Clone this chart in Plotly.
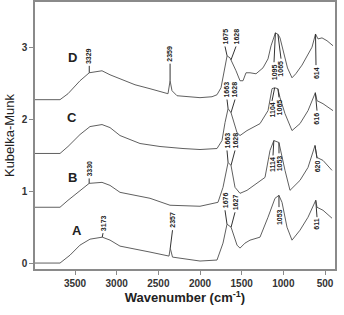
import plotly.graph_objects as go

# ---- data (wavenumber cm-1, Kubelka-Munk) ----
wn_A = [3980, 3680, 3560, 3440, 3320, 3173, 3080, 2960, 2600, 2372, 2357, 2330, 2000, 1796, 1724, 1676, 1627, 1556, 1520, 1460, 1400, 1280, 1184, 1100, 1053, 1016, 956, 896, 800, 704, 611, 596, 524, 416]
km_A = [0.0, 0.0, 0.11, 0.25, 0.333, 0.361, 0.32, 0.236, 0.153, 0.097, 0.208, 0.083, 0.028, 0.042, 0.278, 0.542, 0.50, 0.25, 0.208, 0.278, 0.319, 0.361, 0.639, 0.903, 0.944, 0.847, 0.50, 0.319, 0.458, 0.639, 0.875, 0.778, 0.736, 0.625]

wn_B = [3980, 3680, 3584, 3440, 3330, 3176, 3080, 2960, 2600, 2360, 2000, 1784, 1724, 1663, 1628, 1580, 1520, 1436, 1316, 1220, 1160, 1114, 1053, 1040, 980, 920, 800, 704, 620, 596, 524, 416]
km_B = [0.778, 0.778, 0.875, 1.014, 1.111, 1.125, 1.083, 0.986, 0.903, 0.806, 0.792, 0.847, 1.056, 1.403, 1.361, 1.056, 0.972, 1.014, 1.111, 1.194, 1.569, 1.708, 1.681, 1.611, 1.292, 1.014, 1.153, 1.333, 1.639, 1.472, 1.431, 1.292]

wn_C = [3980, 3680, 3584, 3440, 3320, 3176, 3080, 2960, 2720, 2480, 2204, 2000, 1796, 1736, 1700, 1663, 1628, 1556, 1520, 1436, 1280, 1184, 1136, 1104, 1065, 1040, 980, 896, 800, 704, 616, 596, 524, 404]
km_C = [1.528, 1.528, 1.625, 1.792, 1.903, 1.931, 1.889, 1.778, 1.667, 1.625, 1.597, 1.583, 1.597, 1.708, 1.958, 2.153, 2.097, 1.819, 1.778, 1.847, 1.944, 2.125, 2.431, 2.444, 2.43, 2.306, 2.083, 1.847, 1.944, 2.125, 2.375, 2.264, 2.222, 2.125]

wn_D = [3980, 3680, 3584, 3440, 3329, 3260, 3176, 3080, 2960, 2780, 2600, 2480, 2384, 2359, 2336, 2276, 2120, 2000, 1856, 1796, 1748, 1712, 1675, 1640, 1628, 1568, 1520, 1484, 1448, 1400, 1328, 1244, 1184, 1148, 1095, 1065, 1040, 1000, 950, 896, 850, 776, 704, 656, 614, 584, 536, 476, 404]
km_D = [2.278, 2.278, 2.361, 2.542, 2.653, 2.667, 2.681, 2.625, 2.569, 2.486, 2.431, 2.389, 2.361, 2.542, 2.403, 2.333, 2.319, 2.306, 2.319, 2.347, 2.444, 2.681, 2.889, 2.861, 2.833, 2.681, 2.542, 2.542, 2.653, 2.653, 2.639, 2.722, 2.847, 3.028, 3.21, 3.19, 3.14, 2.96, 2.72, 2.583, 2.64, 2.76, 2.917, 3.01, 3.194, 3.125, 3.14, 3.10, 3.03]

series = [("A", wn_A, km_A), ("B", wn_B, km_B), ("C", wn_C, km_C), ("D", wn_D, km_D)]

# sample letters: name, wavenumber, y
letters = [("A", 3476, 0.46), ("B", 3536, 1.19), ("C", 3536, 2.03), ("D", 3536, 2.86)]

# peak labels: text, peak wn, peak y, label wn, label y, above(True)/below(False)
labels = [
    ("3329", 3329, 2.653, 3329, 2.75, True),
    ("2359", 2359, 2.542, 2359, 2.78, True),
    ("1675", 1675, 2.889, 1700, 3.02, True),
    ("1628", 1628, 2.833, 1568, 3.02, True),
    ("1095", 1095, 3.21, 1112, 2.80, False),
    ("1065", 1065, 3.19, 1028, 2.85, False),
    ("614", 614, 3.194, 608, 2.76, False),
    ("1663", 1663, 2.153, 1676, 2.28, True),
    ("1628", 1628, 2.097, 1580, 2.28, True),
    ("1104", 1104, 2.444, 1136, 2.26, False),
    ("1065", 1065, 2.43, 1052, 2.31, False),
    ("616", 616, 2.375, 596, 2.125, False),
    ("3330", 3330, 1.111, 3330, 1.18, True),
    ("1663", 1663, 1.403, 1676, 1.57, True),
    ("1628", 1628, 1.361, 1580, 1.57, True),
    ("1114", 1114, 1.708, 1124, 1.50, False),
    ("1053", 1053, 1.681, 1052, 1.53, False),
    ("620", 620, 1.639, 596, 1.46, False),
    ("3173", 3173, 0.361, 3164, 0.417, True),
    ("2357", 2357, 0.208, 2330, 0.458, True),
    ("1676", 1676, 0.542, 1700, 0.736, True),
    ("1627", 1627, 0.50, 1580, 0.708, True),
    ("1053", 1053, 0.944, 1052, 0.78, False),
    ("611", 611, 0.875, 596, 0.64, False),
]

fig = go.Figure()
for name, wn, km in series:
    fig.add_trace(go.Scatter(x=wn, y=km, mode="lines", name=name,
                             line=dict(color="#606060", width=1), showlegend=False))

for name, x, y in letters:
    fig.add_annotation(x=x, y=y, text="<b>%s</b>" % name, showarrow=False,
                       font=dict(family="Arial", size=13, color="#222"))

for txt, px, py, lx, ly, above in labels:
    fig.add_shape(type="line", x0=px, y0=py, x1=lx, y1=ly,
                  line=dict(color="#333", width=1))
    fig.add_annotation(x=lx, y=ly, text="<b>%s</b>" % txt, showarrow=False,
                       textangle=-90, yanchor="bottom" if above else "top",
                       xanchor="center",
                       font=dict(family="Arial", size=7, color="#222"))

axis_common = dict(showline=True, mirror=True, linecolor="#8a8a8a", linewidth=1.5,
                   ticks="outside", ticklen=4, tickcolor="#8a8a8a", showgrid=False,
                   zeroline=False, automargin=False,
                   tickfont=dict(family="Arial", size=10, color="#333", weight="bold"))

fig.update_xaxes(range=[3980, 380], autorange=False,
                 tickvals=[3500, 3000, 2500, 2000, 1500, 1000, 500],
                 title=dict(text="<b>Wavenumber (cm<sup>-1</sup>)</b>",
                            font=dict(family="Arial", size=13, color="#222"), standoff=4),
                 **axis_common)
fig.update_yaxes(range=[-0.083, 3.64], autorange=False, tickvals=[0, 1, 2, 3],
                 title=dict(text="Kubelka-Munk",
                            font=dict(family="Arial", size=13, color="#222"), standoff=4),
                 **axis_common)

fig.update_layout(width=344, height=315, margin=dict(l=35, r=9, t=2, b=46),
                  plot_bgcolor="white", paper_bgcolor="white")
fig.write_html("out.html", config={"displayModeBar": False},
               post_script="document.body.style.margin='0';")
